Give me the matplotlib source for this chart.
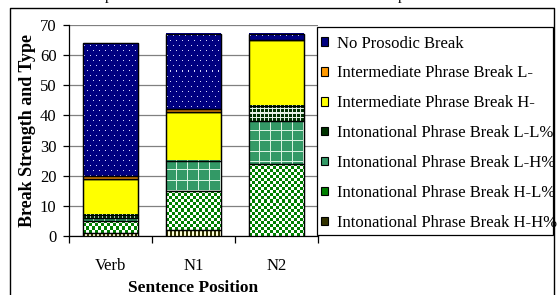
import numpy as np
import matplotlib
matplotlib.use("Agg")
import matplotlib.pyplot as plt
from matplotlib.patches import Patch, Rectangle
from matplotlib.lines import Line2D

categories = ["Verb", "N1", "N2"]
series_names = [
    "Intonational Phrase Break H-H%",
    "Intonational Phrase Break H-L%",
    "Intonational Phrase Break L-H%",
    "Intonational Phrase Break L-L%",
    "Intermediate Phrase Break H-",
    "Intermediate Phrase Break L-",
    "No Prosodic Break",
]
hh = [1, 2, 0]
hl = [4, 13, 24]
lh = [1, 10, 14]
ll = [1, 0, 5]
ip_h = [12, 16, 22]
ip_l = [1, 1, 0]
no_break = [44, 25, 2]
series_values = [hh, hl, lh, ll, ip_h, ip_l, no_break]
yticks = [0, 10, 20, 30, 40, 50, 60, 70]

styles = [
    ("stripes", "#333300"),
    ("checker", "#008000"),
    ("biggrid", "#339966"),
    ("smallgrid", "#003300"),
    ("solid", "#FFFF00"),
    ("solid", "#FF9900"),
    ("dots", "#000080"),
]

def hex2rgb(h):
    h = h.lstrip("#")
    return np.array([int(h[i:i + 2], 16) for i in (0, 2, 4)]) / 255.0

def pattern(kind, color, h, w):
    base = hex2rgb(color)
    img = np.ones((h, w, 3)) * base
    r = np.arange(h)[:, None]
    c = np.arange(w)[None, :]
    if kind == "dots":
        mask = ((r % 5) == 2) & (((c + ((r // 5) % 2) * 3) % 6) == 1)
        img[mask] = np.array([0.85, 0.85, 1.0])
    elif kind == "checker":
        mask = np.broadcast_to(((r // 3 + c // 3) % 2) == 0, (h, w))
        img[mask] = np.array([1.0, 1.0, 1.0])
    elif kind == "biggrid":
        mask = np.broadcast_to(((r % 10) == 9) | ((c % 11) == 10), (h, w))
        img[mask] = np.array([0.85, 0.95, 0.88])
    elif kind == "smallgrid":
        mask = np.broadcast_to(((r % 4) == 3) | ((c % 4) == 3), (h, w))
        img[mask] = np.array([0.9, 0.95, 0.9])
    elif kind == "stripes":
        mask = np.broadcast_to((c % 4) >= 2, (h, w))
        img[mask] = np.array([1.0, 1.0, 0.85])
    return img

plt.rcParams["font.family"] = ["Liberation Serif", "DejaVu Serif"]

fig = plt.figure(figsize=(5.59, 2.95), dpi=100)
ax = fig.add_axes([69 / 559, 1 - 236 / 295, (318 - 69) / 559, (236 - 25) / 295])

x = np.arange(len(categories))
width = 0.66
ax.set_xlim(-0.5, 2.5)
ax.set_ylim(0, 70)

bottoms = np.zeros(len(categories))
fig.canvas.draw()
for vals, (kind, col) in zip(series_values, styles):
    vals = np.array(vals, dtype=float)
    bars = ax.bar(x, vals, width, bottom=bottoms, facecolor=col,
                  edgecolor="black", linewidth=0.9, zorder=3)
    for rect, v in zip(bars, vals):
        if v <= 0:
            rect.set_visible(False)
            continue
        x0, y0 = rect.get_x(), rect.get_y()
        x1, y1 = x0 + rect.get_width(), y0 + rect.get_height()
        p0 = ax.transData.transform((x0, y0))
        p1 = ax.transData.transform((x1, y1))
        wpx = max(1, int(round(p1[0] - p0[0])))
        hpx = max(1, int(round(p1[1] - p0[1])))
        if kind != "solid":
            img = pattern(kind, col, hpx, wpx)
            ax.imshow(img, extent=(x0, x1, y0, y1), origin="upper",
                      aspect="auto", interpolation="nearest", zorder=3.5)
        ax.add_patch(Rectangle((x0, y0), x1 - x0, y1 - y0, fill=False,
                               edgecolor="black", linewidth=0.9, zorder=4))
    bottoms += vals

ax.set_xlim(-0.5, 2.5)
ax.set_ylim(0, 70)
ax.set_yticks(yticks)
ax.set_yticklabels([str(t) for t in yticks], fontsize=12)
ax.yaxis.grid(True, color="#808080", linewidth=0.9, zorder=0)
ax.set_axisbelow(True)
ax.set_xticks(x)
ax.set_xticklabels(categories, fontsize=12)
ax.set_xticks([-0.5, 0.5, 1.5, 2.5], minor=True)
ax.tick_params(axis="x", which="major", length=0, pad=16)
ax.tick_params(axis="x", which="minor", length=5, width=0.9, direction="out")
ax.tick_params(axis="y", length=4.5, width=0.9, pad=4.5)
for s in ("top", "right"):
    ax.spines[s].set_visible(False)
for s in ("left", "bottom"):
    ax.spines[s].set_linewidth(0.9)
ax.set_ylabel("Break Strength and Type", fontsize=13, fontweight="bold", labelpad=3)
ax.set_xlabel("Sentence Position", fontsize=12.5, fontweight="bold", labelpad=4)

# legend frame (drawn by hand to match the reference box)
fig.add_artist(Rectangle((317 / 559, 1 - 235 / 295), 236 / 559, 208 / 295,
                         transform=fig.transFigure, fill=True, facecolor="white",
                         edgecolor="black", linewidth=0.9, zorder=5))
handles = [Patch(facecolor=col, edgecolor="black", linewidth=0.8) for kind, col in styles]
leg = fig.legend(handles[::-1], series_names[::-1], loc="upper left",
                 bbox_to_anchor=(317 / 559, 1 - 31.5 / 295),
                 borderaxespad=0, frameon=False, fontsize=12,
                 handlelength=0.4, handleheight=0.4, handletextpad=0.57,
                 labelspacing=0.83, borderpad=0.25)
leg.set_zorder(6)

# outer frame
fig.add_artist(Line2D([10 / 559, 10 / 559, 554 / 559, 554 / 559],
                      [0, 1 - 8 / 295, 1 - 8 / 295, 0],
                      transform=fig.transFigure, color="black", linewidth=1.0))
# clipped fragments of text above the frame
fig.text(105 / 559, 1.0, "p", fontsize=11, va="baseline", ha="left")
fig.text(398 / 559, 1.0, "p", fontsize=11, va="baseline", ha="left")

fig.savefig("out.png", dpi=100)
